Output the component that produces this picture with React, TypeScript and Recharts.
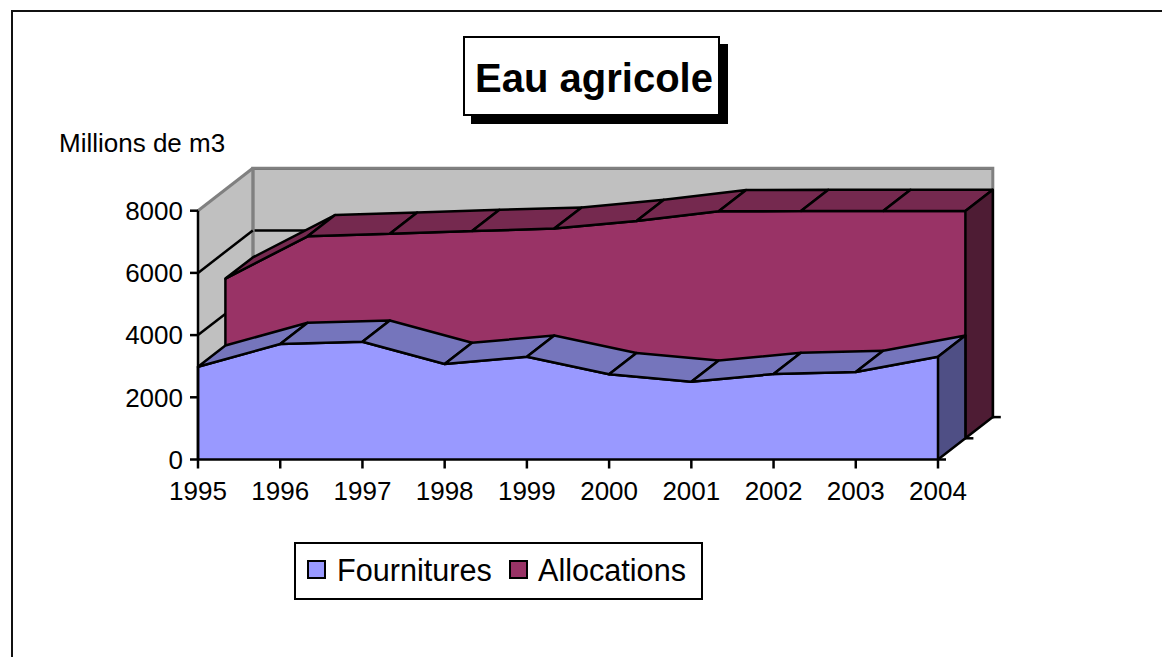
import { AreaChart, Area, XAxis, YAxis, CartesianGrid, ReferenceArea } from "recharts";

const YEARS = ["1995", "1996", "1997", "1998", "1999", "2000", "2001", "2002", "2003", "2004"];
const FOURNITURES = [2984, 3714, 3788, 3071, 3305, 2740, 2502, 2749, 2814, 3305];
const ALLOCATIONS = [5135, 6495, 6576, 6666, 6743, 6987, 7299, 7309, 7309, 7309];
const Y_TICKS = [0, 2000, 4000, 6000, 8000];

const tableData = YEARS.map((year, i) => ({
  year,
  fournitures: FOURNITURES[i],
  allocations: ALLOCATIONS[i],
}));

const WIDTH = 1162;
const HEIGHT = 657;
const FONT = '"Liberation Sans", Arial, sans-serif';
const LINE_W = 2.5;

// front plane of the fake 3d box
const PLOT = { left: 198, right: 938, top: 210.7, bottom: 459.5 };
// one series step in depth
const STEP = { dx: 27.4, dy: -21.2 };
const AXIS_W = 60;
const AXIS_H = 50;

function margins(plane: number, yAxis: boolean, xAxis: boolean) {
  const ox = STEP.dx * plane;
  const oy = STEP.dy * plane;
  return {
    left: PLOT.left + ox - (yAxis ? AXIS_W : 0),
    right: WIDTH - PLOT.right - ox,
    top: PLOT.top + oy,
    bottom: HEIGHT - PLOT.bottom - oy - (xAxis ? AXIS_H : 0),
  };
}

const LAYER = { position: "absolute", left: 0, top: 0 } as const;

// draws the top facets and end wall of a series, one dot at a time
function facetDots(topFill: string, endFill: string, plane: number) {
  let prev: { x: number; y: number } | null = null;
  const baseY = PLOT.bottom + STEP.dy * plane;
  const { dx, dy } = STEP;
  return (p: any) => {
    const { cx, cy, index } = p;
    const from = index === 0 ? null : prev;
    prev = { x: cx, y: cy };
    const line = { stroke: "#000", strokeWidth: LINE_W, fill: "none" };
    return (
      <g key={index}>
        {index === 0 && <line x1={cx} y1={cy} x2={cx} y2={baseY} {...line} />}
        {from && (
          <polygon
            points={`${from.x},${from.y} ${cx},${cy} ${cx + dx},${cy + dy} ${from.x + dx},${from.y + dy}`}
            fill={topFill}
            stroke="#000"
            strokeWidth={LINE_W}
            strokeLinejoin="round"
          />
        )}
        {index === YEARS.length - 1 && (
          <g>
            <polygon
              points={`${cx},${cy} ${cx + dx},${cy + dy} ${cx + dx},${baseY + dy} ${cx},${baseY}`}
              fill={endFill}
              stroke="#000"
              strokeWidth={LINE_W}
              strokeLinejoin="round"
            />
            <line x1={cx} y1={baseY} x2={cx + 8} y2={baseY} {...line} />
            {plane === 1 && <line x1={cx + dx} y1={baseY + dy} x2={cx + dx + 8} y2={baseY + dy} {...line} />}
          </g>
        )}
      </g>
    );
  };
}

// side wall and its grid lines hang off the back axis ticks
function WallTick(props: any) {
  const { x, y, payload } = props;
  const dx = STEP.dx * 2;
  const dy = STEP.dy * 2;
  const h = PLOT.bottom - PLOT.top;
  if (payload.value === 0) {
    return (
      <g>
        <polygon
          points={`${x},${y} ${x},${y - h} ${x - dx},${y - h - dy} ${x - dx},${y - dy}`}
          fill="#C0C0C0"
        />
        <line x1={x} y1={y} x2={x} y2={y - h} stroke="#808080" strokeWidth={3} />
      </g>
    );
  }
  return (
    <line
      x1={x}
      y1={y}
      x2={x - dx}
      y2={y - dy}
      stroke={payload.value === 8000 ? "#808080" : "#000"}
      strokeWidth={payload.value === 8000 ? 3 : LINE_W}
    />
  );
}

function LegendKey({ color, label, left, textLeft }: { color: string; label: string; left: number; textLeft: number }) {
  return (
    <>
      <div
        style={{
          position: "absolute",
          left,
          top: 16,
          width: 15,
          height: 15,
          background: color,
          border: "2px solid #000",
        }}
      />
      <div style={{ position: "absolute", left: textLeft, top: 9, fontSize: 30.6, lineHeight: "34px" }}>{label}</div>
    </>
  );
}

export default function App() {
  return (
    <div
      style={{
        position: "absolute",
        left: 0,
        top: 0,
        width: WIDTH,
        height: HEIGHT,
        overflow: "hidden",
        background: "#fff",
        fontFamily: FONT,
        color: "#000",
      }}
    >
      <div style={{ position: "absolute", left: 11, top: 10, width: WIDTH, height: HEIGHT, borderLeft: "2px solid #111", borderTop: "2px solid #111" }} />

      {/* back wall, the invisible area is only there so the axis gets ticks */}
      <div style={LAYER}>
        <AreaChart width={WIDTH} height={HEIGHT} data={tableData} margin={margins(2, true, false)}>
          <XAxis dataKey="year" hide />
          <YAxis
            domain={[0, 8000]}
            ticks={Y_TICKS}
            width={AXIS_W}
            tickSize={0}
            tickMargin={0}
            tickLine={false}
            axisLine={{ stroke: "#808080", strokeWidth: 3 }}
            tick={<WallTick />}
          />
          <CartesianGrid vertical={false} stroke="#000" strokeWidth={LINE_W} fill="#C0C0C0" fillOpacity={1} />
          <ReferenceArea x1="1995" x2="2004" y1={0} y2={8000} fill="none" stroke="#808080" strokeWidth={3} />
          <Area dataKey="allocations" fill="none" stroke="none" dot={false} activeDot={false} isAnimationActive={false} />
        </AreaChart>
      </div>

      {/* allocations, one step back */}
      <div style={LAYER}>
        <AreaChart width={WIDTH} height={HEIGHT} data={tableData} margin={margins(1, false, false)}>
          <XAxis dataKey="year" hide />
          <YAxis domain={[0, 8000]} ticks={Y_TICKS} hide />
          <Area
            dataKey="allocations"
            type="linear"
            fill="#993366"
            fillOpacity={1}
            stroke="#000"
            strokeWidth={LINE_W}
            dot={facetDots("#75294F", "#4E1C34", 1)}
            activeDot={false}
            isAnimationActive={false}
          />
        </AreaChart>
      </div>

      {/* fournitures, front plane, carries the visible axes */}
      <div style={LAYER}>
        <AreaChart width={WIDTH} height={HEIGHT} data={tableData} margin={margins(0, true, true)}>
          <Area
            dataKey="fournitures"
            type="linear"
            fill="#9999FF"
            fillOpacity={1}
            stroke="#000"
            strokeWidth={LINE_W}
            dot={facetDots("#7575BC", "#4F4F85", 0)}
            activeDot={false}
            isAnimationActive={false}
          />
          <XAxis
            dataKey="year"
            interval={0}
            height={AXIS_H}
            tickSize={9}
            tickMargin={13}
            axisLine={{ stroke: "#000", strokeWidth: LINE_W }}
            tickLine={{ stroke: "#000", strokeWidth: LINE_W }}
            tick={{ fill: "#000", fontSize: 26, fontFamily: FONT }}
          />
          <YAxis
            domain={[0, 8000]}
            ticks={Y_TICKS}
            width={AXIS_W}
            tickSize={8}
            tickMargin={7}
            axisLine={{ stroke: "#000", strokeWidth: LINE_W }}
            tickLine={{ stroke: "#000", strokeWidth: LINE_W }}
            tick={{ fill: "#000", fontSize: 26, fontFamily: FONT }}
          />
        </AreaChart>
      </div>

      <div style={{ position: "absolute", left: 59, top: 128, fontSize: 26, lineHeight: "30px" }}>
        Millions de m3
      </div>

      <div
        style={{
          position: "absolute",
          left: 463,
          top: 36,
          width: 253,
          height: 76,
          background: "#fff",
          border: "2px solid #000",
          boxShadow: "8px 8px 0 #000",
          textAlign: "center",
          textIndent: 5,
          whiteSpace: "nowrap",
          fontSize: 40,
          fontWeight: 700,
          lineHeight: "81px",
        }}
      >
        Eau agricole
      </div>

      <div
        style={{
          position: "absolute",
          left: 294,
          top: 542,
          width: 405,
          height: 54,
          background: "#fff",
          border: "2px solid #000",
        }}
      >
        <LegendKey color="#9999FF" label="Fournitures" left={11} textLeft={41} />
        <LegendKey color="#993366" label="Allocations" left={213} textLeft={242} />
      </div>
    </div>
  );
}
